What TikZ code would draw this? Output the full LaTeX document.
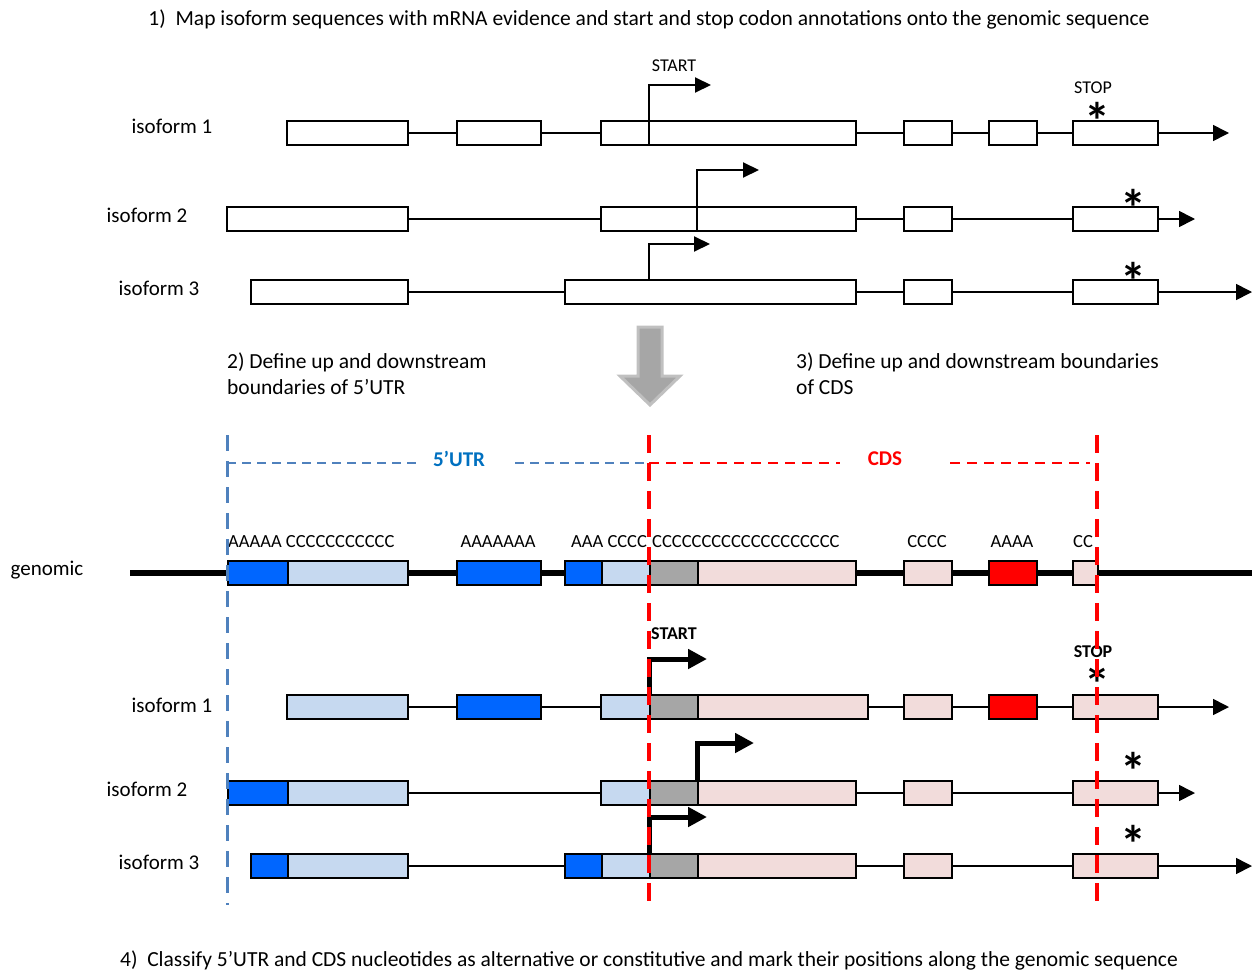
\documentclass[tikz,border=0pt]{standalone}
\usepackage{fontspec}
\setmainfont{Carlito}
\usetikzlibrary{arrows.meta}

\definecolor{utrdark}{RGB}{0,102,255}
\definecolor{utrlight}{RGB}{198,217,240}
\definecolor{startgray}{RGB}{166,166,166}
\definecolor{cdspink}{RGB}{242,220,219}
\definecolor{altred}{RGB}{255,0,0}
\definecolor{utrguide}{RGB}{79,129,189}
\definecolor{utrtext}{RGB}{0,112,192}
\definecolor{arrowrim}{RGB}{192,192,192}

\begin{document}
\begin{tikzpicture}[
        x=1pt, y=-1pt,
        every node/.style={font=\fontsize{21}{26}\selectfont},
        steptext/.style={font=\fontsize{21.5}{26}\selectfont},
        exon/.style={rectangle, draw, line width=2pt, minimum height=24, anchor=west, inner sep=0pt},
        plainexon/.style={exon, fill=white},
        altutr/.style={exon, line width=2.2pt, fill=utrdark},
        conutr/.style={exon, line width=2.2pt, fill=utrlight},
        startcds/.style={exon, line width=2.2pt, fill=startgray},
        concds/.style={exon, line width=2.2pt, fill=cdspink},
        altcds/.style={exon, line width=2.2pt, fill=altred},
        intron/.style={line width=1.6pt},
        genline/.style={line width=5.5pt},
        arrow/.style={line width=1.6pt, ->, >={Triangle[length=16pt,width=16pt]}},
        startarrow/.style={line width=2pt, ->, >={Triangle[length=16pt,width=15pt]}},
        boldstart/.style={line width=5pt, ->, >={Triangle[length=19pt,width=19pt]}},
        seqlabel/.style={font=\fontsize{18.5}{22}\selectfont, inner sep=0pt},
        codonlabel/.style={font=\fontsize{18}{22}\selectfont, inner sep=0pt},
        boldcodon/.style={font=\fontsize{18}{22}\selectfont\bfseries, inner sep=0pt},
        stopmark/.style={font=\fontsize{52}{52}\selectfont\bfseries, inner sep=0pt, anchor=base},
        utrdash/.style={utrguide, line width=1.6pt, dash pattern=on 9pt off 6pt},
        cdsdash/.style={altred, line width=2pt, dash pattern=on 10pt off 7pt},
        utrbound/.style={utrguide, line width=3pt, dash pattern=on 16pt off 10pt},
        cdsbound/.style={altred, line width=3.5pt, dash pattern=on 18pt off 10pt},
        bigarrow/.style={fill=startgray, draw=arrowrim, line width=3pt, line join=miter},
    ]
    \useasboundingbox (0,0) rectangle (1252,969);

    % step 1: isoforms mapped onto the genome
    \node[steptext] (title) at (649,19) {1)\ \ Map isoform sequences with mRNA evidence and start and stop codon annotations onto the genomic sequence};

    \node (t1) at (172,126) {isoform 1};
    \node[plainexon, minimum width=121] (t1a) at (286,133) {};
    \node[plainexon, minimum width=84] (t1b) at (456,133) {};
    \node[plainexon, minimum width=255] (t1c) at (600,133) {};
    \node[plainexon, minimum width=48] (t1d) at (903,133) {};
    \node[plainexon, minimum width=48] (t1e) at (988,133) {};
    \node[plainexon, minimum width=85] (t1f) at (1072,133) {};
    \coordinate (t1end) at (1229,133);
    \coordinate (t1s) at (649,145);
    \coordinate (t1se) at (711,85);
    \draw [intron] (t1a) -- (t1b);
    \draw [intron] (t1b) -- (t1c);
    \draw [intron] (t1c) -- (t1d);
    \draw [intron] (t1d) -- (t1e);
    \draw [intron] (t1e) -- (t1f);
    \draw [arrow] (t1f) -- (t1end);
    \draw [startarrow] (t1s) |- (t1se);
    \node[codonlabel] (start1) at (674,66) {START};
    \node[codonlabel] (stop1) at (1093,88) {STOP};
    \node[stopmark] (s1) at (1097,139.5) {*};

    \node (t2) at (147,215) {isoform 2};
    \node[plainexon, minimum width=181] (t2a) at (226,219) {};
    \node[plainexon, minimum width=255] (t2c) at (600,219) {};
    \node[plainexon, minimum width=48] (t2d) at (903,219) {};
    \node[plainexon, minimum width=85] (t2f) at (1072,219) {};
    \coordinate (t2end) at (1195,219);
    \coordinate (t2s) at (697,231);
    \coordinate (t2se) at (759,170);
    \draw [intron] (t2a) -- (t2c);
    \draw [intron] (t2c) -- (t2d);
    \draw [intron] (t2d) -- (t2f);
    \draw [arrow] (t2f) -- (t2end);
    \draw [startarrow] (t2s) |- (t2se);
    \node[stopmark] (s2) at (1133,226.5) {*};

    \node (t3) at (159,288) {isoform 3};
    \node[plainexon, minimum width=157] (t3a) at (250,292) {};
    \node[plainexon, minimum width=291] (t3c) at (564,292) {};
    \node[plainexon, minimum width=48] (t3d) at (903,292) {};
    \node[plainexon, minimum width=85] (t3f) at (1072,292) {};
    \coordinate (t3end) at (1252,292);
    \coordinate (t3s) at (649,280);
    \coordinate (t3se) at (710,244);
    \draw [intron] (t3a) -- (t3c);
    \draw [intron] (t3c) -- (t3d);
    \draw [intron] (t3d) -- (t3f);
    \draw [arrow] (t3f) -- (t3end);
    \draw [startarrow] (t3s) |- (t3se);
    \node[stopmark] (s3) at (1133,299.5) {*};

    \draw [bigarrow] (638,327) -- (662,327) -- (662,376) -- (680,376) -- (650,405) -- (620,376) -- (638,376) -- cycle;

    % steps 2 and 3: region boundaries
    \node[steptext, anchor=north west, align=left, inner sep=0pt] (step2) at (227,353) {2) Define up and downstream\\boundaries of 5’UTR};
    \node[steptext, anchor=north west, align=left, inner sep=0pt] (step3) at (796,353) {3) Define up and downstream boundaries\\of CDS};
    \node[font=\fontsize{21}{26}\selectfont\bfseries, text=utrtext] (utr) at (459,459) {5’UTR};
    \node[font=\fontsize{21}{26}\selectfont\bfseries, text=altred] (cds) at (885,459) {CDS};

    % genomic sequence
    \node (gen) at (47,570) {genomic};
    \coordinate (g0) at (130,573);
    \coordinate (g1) at (1252,573);
    \draw [genline] (g0) -- (g1);
    \node[altutr, minimum width=60] (g2) at (227,573) {};
    \node[conutr, minimum width=120] (g3) at (287,573) {};
    \node[altutr, minimum width=84] (g4) at (456,573) {};
    \node[altutr, minimum width=37] (g5) at (564,573) {};
    \node[conutr, minimum width=48] (g6) at (601,573) {};
    \node[startcds, minimum width=48] (g7) at (649,573) {};
    \node[concds, minimum width=158] (g8) at (697,573) {};
    \node[concds, minimum width=48] (g9) at (903,573) {};
    \node[altcds, minimum width=48] (g10) at (988,573) {};
    \node[concds, minimum width=25] (g11) at (1072,573) {};
    \node[seqlabel, anchor=west] (q1) at (228,542) {AAAAA CCCCCCCCCCC};
    \node[seqlabel] (q2) at (498,542) {AAAAAAA};
    \node[seqlabel, anchor=west] (q3) at (571,542) {AAA CCCC};
    \node[seqlabel, anchor=west] (q4) at (652,542) {CCCCCCCCCCCCCCCCCCC};
    \node[seqlabel] (q5) at (927,542) {CCCC};
    \node[seqlabel] (q6) at (1012,542) {AAAA};
    \node[seqlabel] (q7) at (1083,542) {CC};

    % step 4: classified isoforms
    \node (b1) at (172,705) {isoform 1};
    \node[conutr, minimum width=121] (b1a) at (286,707) {};
    \node[altutr, minimum width=84] (b1b) at (456,707) {};
    \node[conutr, minimum width=49] (b1c) at (600,707) {};
    \node[startcds, minimum width=48] (b1g) at (649,707) {};
    \node[concds, minimum width=170] (b1p) at (697,707) {};
    \node[concds, minimum width=48] (b1d) at (903,707) {};
    \node[altcds, minimum width=48] (b1e) at (988,707) {};
    \node[concds, minimum width=85] (b1f) at (1072,707) {};
    \coordinate (b1end) at (1229,707);
    \coordinate (b1s) at (649,695);
    \coordinate (b1se) at (707,659);
    \draw [intron] (b1a) -- (b1b);
    \draw [intron] (b1b) -- (b1c);
    \draw [intron] (b1p) -- (b1d);
    \draw [intron] (b1d) -- (b1e);
    \draw [intron] (b1e) -- (b1f);
    \draw [arrow] (b1f) -- (b1end);
    \draw [boldstart] (b1s) |- (b1se);
    \node[boldcodon] (start2) at (674,634) {START};
    \node[boldcodon] (stop2) at (1093,652) {STOP};
    \node[stopmark] (s4) at (1097,702.5) {*};

    \node (b2) at (147,789) {isoform 2};
    \node[altutr, minimum width=60] (b2a) at (227,793) {};
    \node[conutr, minimum width=120] (b2b) at (287,793) {};
    \node[conutr, minimum width=49] (b2c) at (600,793) {};
    \node[startcds, minimum width=48] (b2g) at (649,793) {};
    \node[concds, minimum width=158] (b2p) at (697,793) {};
    \node[concds, minimum width=48] (b2d) at (903,793) {};
    \node[concds, minimum width=85] (b2f) at (1072,793) {};
    \coordinate (b2end) at (1195,793);
    \coordinate (b2s) at (697,781);
    \coordinate (b2se) at (754,743);
    \draw [intron] (b2b) -- (b2c);
    \draw [intron] (b2p) -- (b2d);
    \draw [intron] (b2d) -- (b2f);
    \draw [arrow] (b2f) -- (b2end);
    \draw [boldstart] (b2s) |- (b2se);
    \node[stopmark] (s5) at (1133,789.5) {*};

    \node (b3) at (159,862) {isoform 3};
    \node[altutr, minimum width=37] (b3a) at (250,866) {};
    \node[conutr, minimum width=120] (b3b) at (287,866) {};
    \node[altutr, minimum width=37] (b3h) at (564,866) {};
    \node[conutr, minimum width=48] (b3c) at (601,866) {};
    \node[startcds, minimum width=48] (b3g) at (649,866) {};
    \node[concds, minimum width=158] (b3p) at (697,866) {};
    \node[concds, minimum width=48] (b3d) at (903,866) {};
    \node[concds, minimum width=85] (b3f) at (1072,866) {};
    \coordinate (b3end) at (1252,866);
    \coordinate (b3s) at (649,854);
    \coordinate (b3se) at (707,817);
    \draw [intron] (b3b) -- (b3h);
    \draw [intron] (b3p) -- (b3d);
    \draw [intron] (b3d) -- (b3f);
    \draw [arrow] (b3f) -- (b3end);
    \draw [boldstart] (b3s) |- (b3se);
    \node[stopmark] (s6) at (1133,862.5) {*};

    % boundary guides
    \coordinate (u0) at (227,435);
    \coordinate (u1) at (227,905);
    \coordinate (c0) at (649,435);
    \coordinate (c1) at (649,905);
    \coordinate (e0) at (1097,435);
    \coordinate (e1) at (1097,905);
    \coordinate (uh0) at (227,463);
    \coordinate (uh1) at (420,463);
    \coordinate (uh2) at (515,463);
    \coordinate (uh3) at (649,463);
    \coordinate (ch0) at (649,463);
    \coordinate (ch1) at (840,463);
    \coordinate (ch2) at (950,463);
    \coordinate (ch3) at (1090,463);
    \draw [utrdash] (uh0) -- (uh1);
    \draw [utrdash] (uh2) -- (uh3);
    \draw [cdsdash] (ch0) -- (ch1);
    \draw [cdsdash] (ch2) -- (ch3);
    \draw [utrbound] (u0) -- (u1);
    \draw [cdsbound] (c0) -- (c1);
    \draw [cdsbound] (e0) -- (e1);

    \node[steptext] (step4) at (649,960) {4)\ \ Classify 5’UTR and CDS nucleotides as alternative or constitutive and mark their positions along the genomic sequence};
\end{tikzpicture}
\end{document}
